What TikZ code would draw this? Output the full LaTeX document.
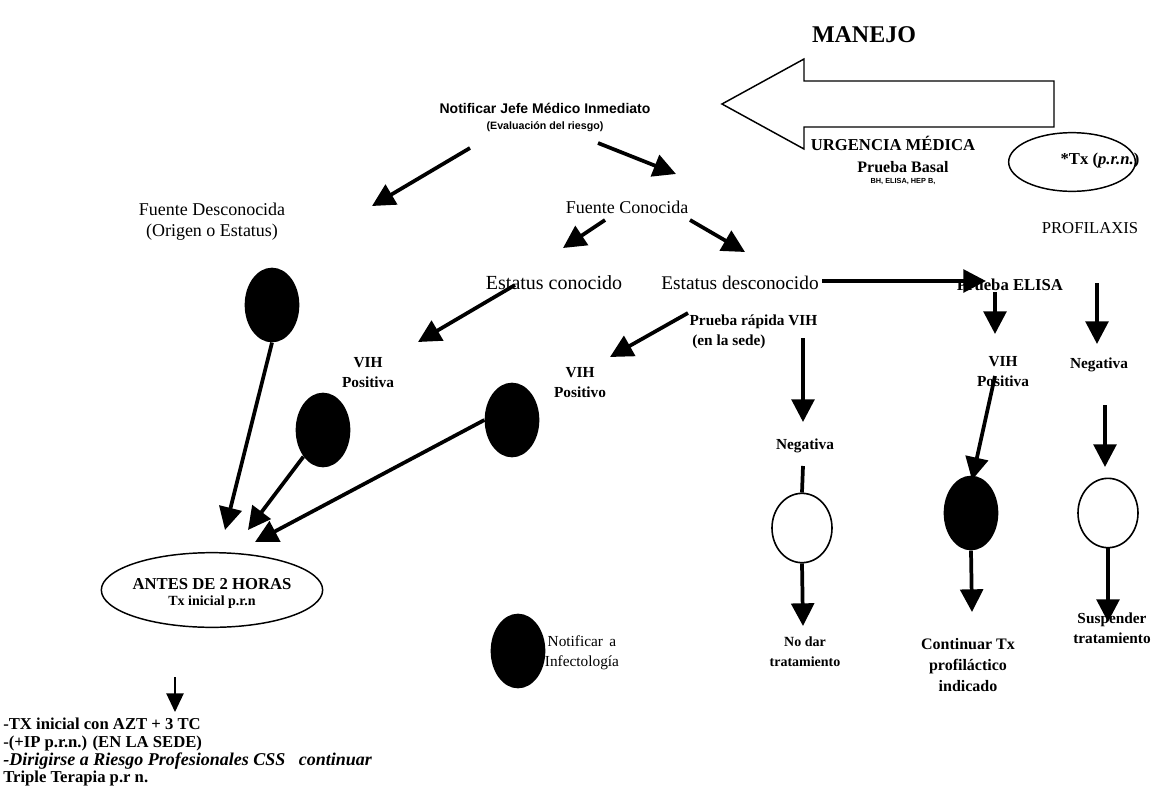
\documentclass[tikz,border=0pt]{standalone}
\usepackage{fontspec}
\setmainfont{Liberation Serif}
\newfontfamily\hv{Liberation Sans}
\usetikzlibrary{arrows.meta,shapes.geometric}
\begin{document}
\begin{tikzpicture}[x=0.75pt,y=-0.75pt,
  arr/.style={line width=2.8pt,-{Triangle[length=17pt,width=17pt]}},
  thinarr/.style={line width=1pt,-{Triangle[length=14pt,width=13pt]}},
  ln/.style={line width=2.8pt},
  blob/.style={ellipse,fill=black,minimum width=41pt,minimum height=56pt,inner sep=0pt},
  hollow/.style={ellipse,draw,line width=1.2pt,minimum width=45pt,minimum height=52pt,inner sep=0pt},
  lbl/.style={font=\fontsize{13.5}{16}\selectfont,align=center,inner sep=1pt},
  blbl/.style={font=\fontsize{11.5}{15}\bfseries\selectfont,align=center,inner sep=1pt},
]
\useasboundingbox[fill=white] (0,0) rectangle (1172,793);

% header
\node[font=\fontsize{18}{20}\bfseries\selectfont] (manejo) at (864,35) {MANEJO};
\draw[line width=1.1pt] (722,104) -- (804,59) -- (804,81) -- (1054,81) -- (1054,127) -- (804,127) -- (804,149) -- cycle;
\node[font=\fontsize{12.5}{15}\bfseries\selectfont,inner sep=1pt] (urg) at (893,143) {URGENCIA MÉDICA};
\node[font=\fontsize{12}{14}\bfseries\selectfont,inner sep=1pt] (basal) at (903,167) {Prueba Basal};
\node[font=\hv\fontsize{5.5}{7}\bfseries\selectfont,inner sep=1pt] (bh) at (903,182) {BH, ELISA, HEP B,};
\node[ellipse,draw,line width=1.1pt,minimum width=95pt,minimum height=44pt] (txe) at (1072,162) {};
\node[font=\fontsize{12.5}{14}\bfseries\selectfont,inner sep=1pt] (tx) at (1100,160) {*Tx (\textit{p.r.n.})};
\node[font=\fontsize{12.5}{14}\selectfont,inner sep=1pt] (profi) at (1090,228) {PROFILAXIS};

% top
\node[font=\hv\bfseries,align=center,inner sep=1pt] (notif) at (545,117)
  {{\fontsize{10.5}{13}\selectfont Notificar Jefe Médico Inmediato}\\{\fontsize{8}{10}\selectfont (Evaluación del riesgo)}};
\node[lbl] (fd) at (212,222) {Fuente Desconocida\\(Origen o Estatus)};
\node[lbl] (fc) at (627,207) {Fuente Conocida};
\node[lbl,font=\fontsize{15}{17}\selectfont] (ec) at (554,283) {Estatus conocido};
\node[lbl,font=\fontsize{14.5}{17}\selectfont] (ed) at (740,283) {Estatus desconocido};
\node[lbl,font=\fontsize{12.5}{15}\bfseries\selectfont] (elisa) at (1010,285) {Prueba ELISA};
\node[blbl,align=left,anchor=west] (prv) at (688,332) {Prueba rápida VIH\\\hspace{2pt}(en la sede)};
\node[blbl] (vp1) at (368,373) {VIH\\Positiva};
\node[blbl] (vp2) at (580,383) {VIH\\Positivo};
\node[blbl] (neg1) at (805,446) {Negativa};
\node[blbl] (vp3) at (1003,372) {VIH\\Positiva};
\node[blbl] (neg2) at (1099,365) {Negativa};

% circles
\node[blob] (e1) at (272,305) {};
\node[blob] (e2) at (323,430) {};
\node[blob] (e3) at (512,420) {};
\node[blob] (e4) at (971,513) {};
\node[blob] (e5) at (518,651) {};
\node[hollow] (h1) at (802,528) {};
\node[hollow] (h2) at (1108,513) {};

\node[ellipse,draw,line width=1.1pt,minimum width=166pt,minimum height=56pt,inner sep=0pt] (antes) at (212,590) {};
\node[font=\bfseries,align=center,inner sep=1pt] (antest) at (212,593)
  {{\fontsize{12.5}{15}\selectfont ANTES DE 2 HORAS}\\{\fontsize{10.5}{13}\selectfont Tx inicial p.r.n}};

\node[blbl,font=\fontsize{11.5}{15}\selectfont] (infect) at (582,653) {Notificar\, a\\Infectología};
\node[blbl,font=\fontsize{10.5}{15}\bfseries\selectfont] (nodar) at (805,652) {No dar\\tratamiento};
\node[blbl,font=\fontsize{12}{15.5}\bfseries\selectfont] (cont) at (968,665) {Continuar Tx\\profiláctico\\indicado};
\node[blbl] (susp) at (1112,628) {Suspender\\tratamiento};

\node[font=\fontsize{12.5}{13.2}\bfseries\selectfont,align=left,anchor=north west,inner sep=0pt] (bottom) at (3,718)
  {-TX inicial con AZT + 3 TC\\-(+IP p.r.n.) (EN LA SEDE)\\{\fontsize{13.5}{13.2}\selectfont\textit{-Dirigirse a Riesgo Profesionales CSS\ \ \ continuar}}\\Triple Terapia p.r n.};

% arrows
\coordinate (s1) at (470,148); \coordinate (t1) at (372,206);
\coordinate (s2) at (598,143); \coordinate (t2) at (676,174);
\draw[arr] (s1) -- (t1);
\draw[arr] (s2) -- (t2);
\coordinate (s3) at (605,220); \coordinate (t3) at (563,248);
\coordinate (s4) at (690,220); \coordinate (t4) at (745,252);
\draw[arr] (s3) -- (t3);
\draw[arr] (s4) -- (t4);
\coordinate (s5) at (515,285); \coordinate (t5) at (418,342);
\draw[arr] (s5) -- (t5);
\coordinate (s6) at (688,313); \coordinate (t6) at (610,357);
\draw[arr] (s6) -- (t6);
\coordinate (s7) at (803,338); \coordinate (t7) at (803,422);
\draw[arr] (s7) -- (t7);
\draw[ln] (803,466) -- (h1.north);
\coordinate (t9) at (803,626);
\draw[arr] (h1.south) -- (t9);
\coordinate (s10) at (822,281); \coordinate (t10) at (986,281);
\draw[arr] (s10) -- (t10);
\coordinate (s11) at (995,292); \coordinate (t11) at (995,334);
\draw[arr] (s11) -- (t11);
\coordinate (s12) at (1097,283); \coordinate (t12) at (1097,344);
\draw[arr] (s12) -- (t12);
\coordinate (s13) at (995,376); \coordinate (t13) at (972,480);
\draw[arr] (s13) -- (t13);
\coordinate (t14) at (972,612);
\draw[arr] (e4.south) -- (t14);
\coordinate (s15) at (1105,405); \coordinate (t15) at (1105,467);
\draw[arr] (s15) -- (t15);
\coordinate (t16) at (1108,622);
\draw[arr] (h2.south) -- (t16);
\coordinate (t17) at (225,530);
\draw[arr] (e1.south) -- (t17);
\coordinate (t18) at (248,530);
\draw[arr] (e2.south west) -- (t18);
\coordinate (t19) at (255,542);
\draw[arr] (e3.west) -- (t19);
\coordinate (s20) at (175,677); \coordinate (t20) at (175,712);
\draw[thinarr] (s20) -- (t20);
\end{tikzpicture}
\end{document}
